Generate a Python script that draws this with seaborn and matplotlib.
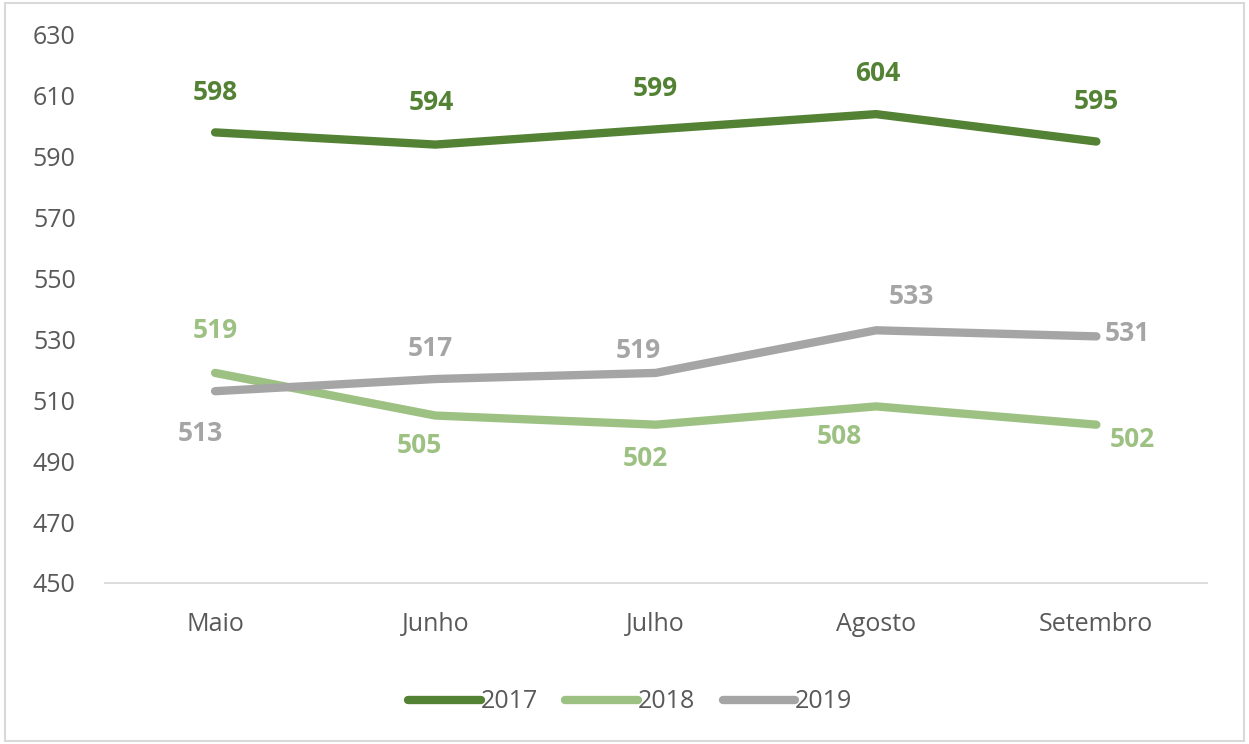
import numpy as np
import pandas as pd
import seaborn as sns
import matplotlib.pyplot as plt
from matplotlib.patches import Rectangle

months = ["Maio", "Junho", "Julho", "Agosto", "Setembro"]
years = ["2017", "2018", "2019"]
v2017 = [598, 594, 599, 604, 595]
v2018 = [519, 505, 502, 508, 502]
v2019 = [513, 517, 519, 533, 531]
yticks = [450, 470, 490, 510, 530, 550, 570, 590, 610, 630]

colors = {"2017": "#548235", "2018": "#9DC183", "2019": "#A5A5A5"}

df = pd.DataFrame({
    "mes": months * 3,
    "ano": sum([[y] * 5 for y in years], []),
    "valor": v2017 + v2018 + v2019,
})
df["x"] = df["mes"].map({m: i for i, m in enumerate(months)})

sns.set_theme(style="white")
plt.rcParams["font.family"] = ["Open Sans", "DejaVu Sans"]

fig = plt.figure(figsize=(12.49, 7.44), dpi=100)
ax = fig.add_axes([0.084, 0.2164, 0.882, 0.7366])

sns.lineplot(data=df, x="x", y="valor", hue="ano", palette=colors, ax=ax,
             linewidth=6, legend=True, sort=False)
for ln in ax.lines:
    ln.set_solid_capstyle("round")

ax.set_xlim(-0.5, 4.5)
ax.set_ylim(450, 630)
ax.set_yticks(yticks)
ax.set_yticklabels([str(t) for t in yticks], fontsize=18, color="#595959")
ax.set_xticks(range(5))
ax.set_xticklabels(months, fontsize=18, color="#595959")
ax.tick_params(axis="x", length=0, pad=21)
ax.tick_params(axis="y", length=0, pad=21)
ax.set_xlabel("")
ax.set_ylabel("")
for s in ["top", "right", "left"]:
    ax.spines[s].set_visible(False)
ax.spines["bottom"].set_color("#D9D9D9")
ax.spines["bottom"].set_linewidth(1.3)

# data labels (offsets in pixels, converted to points)
offs_px = {
    "2017": [(0, 40), (-4, 42), (0, 41), (2, 41), (0, 40)],
    "2018": [(0, 42), (-16, -30), (-10, -34), (-37, -30), (36, -15)],
    "2019": [(-15, -42), (-5, 31), (-17, 22), (35, 34), (31, 3)],
}
for y, vals in zip(years, [v2017, v2018, v2019]):
    for i, v in enumerate(vals):
        dx, dy = offs_px[y][i]
        ax.annotate(str(v), (i, v), xytext=(dx * 0.72, dy * 0.72),
                    textcoords="offset points", ha="center", va="center",
                    fontsize=19, fontweight="bold", color=colors[y])

leg = ax.legend(loc="center", bbox_to_anchor=(0.477, -0.217), ncol=3,
                frameon=False, fontsize=18, handlelength=2.9, handletextpad=0.0,
                columnspacing=1.1)
for t in leg.get_texts():
    t.set_color("#595959")
for h in leg.get_lines():
    h.set_linewidth(6)
    h.set_solid_capstyle("round")

fig.patches.append(Rectangle((0.004, 0.004), 0.992, 0.992, transform=fig.transFigure,
                             fill=False, edgecolor="#D9D9D9", linewidth=1.5))

fig.savefig("out.png", dpi=100)
